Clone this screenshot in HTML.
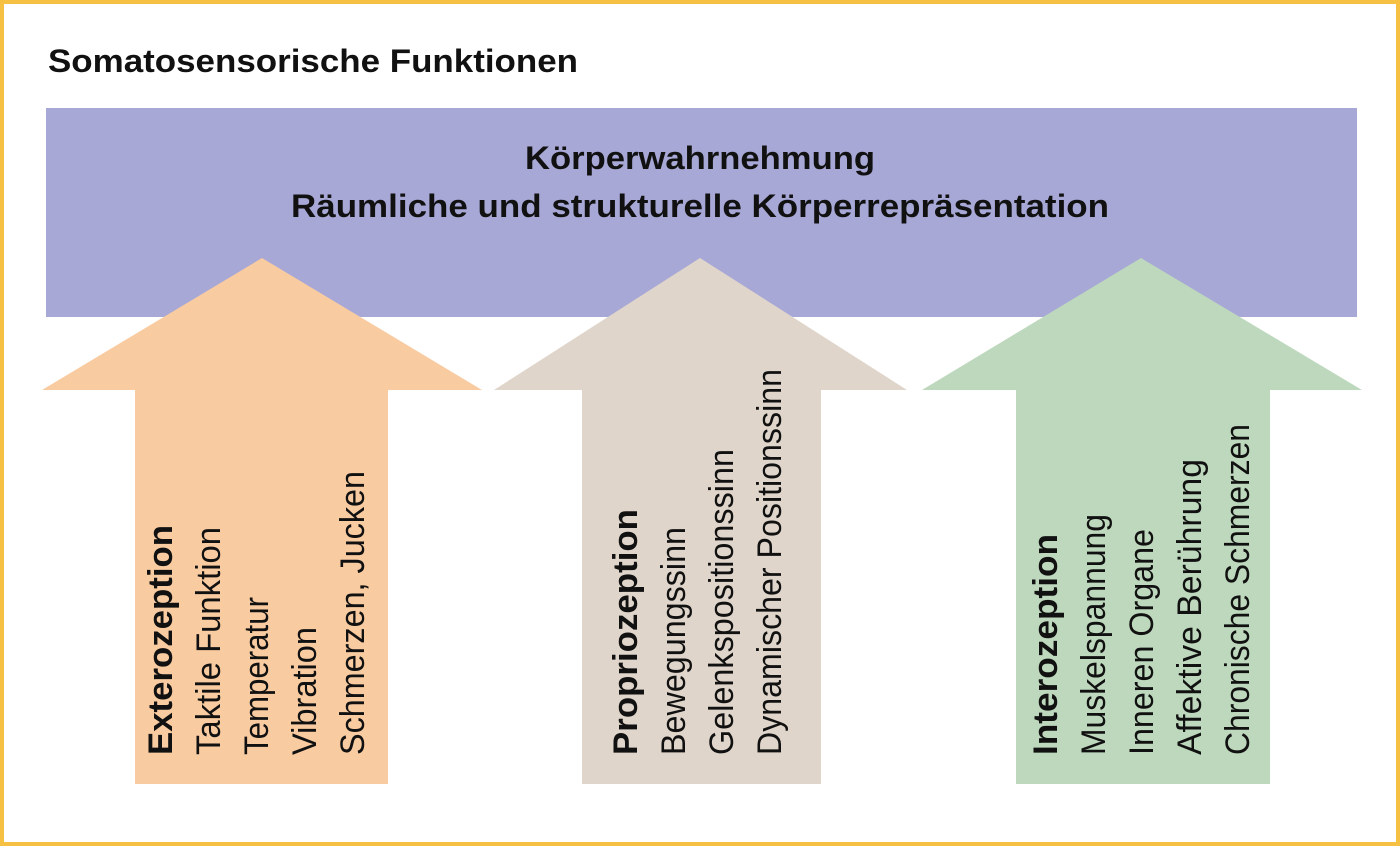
<!DOCTYPE html>
<html><head><meta charset="utf-8"><style>html,body{margin:0;padding:0;background:#fff}svg{display:block}</style></head>
<body>
<svg width="1400" height="846" viewBox="0 0 1400 846" xmlns="http://www.w3.org/2000/svg" font-family="Liberation Sans, sans-serif">
<rect x="2" y="2" width="1396" height="842" fill="#fff" stroke="#f6c043" stroke-width="4"/>
<text x="48" y="72" font-size="32" font-weight="bold" fill="#111" textLength="530" lengthAdjust="spacingAndGlyphs">Somatosensorische Funktionen</text>
<rect x="46" y="108" width="1311" height="209" fill="#a7a8d6"/>
<text x="700" y="169" font-size="32" font-weight="bold" text-anchor="middle" fill="#111" textLength="350" lengthAdjust="spacingAndGlyphs">Körperwahrnehmung</text>
<text x="700" y="217" font-size="32" font-weight="bold" text-anchor="middle" fill="#111" textLength="818" lengthAdjust="spacingAndGlyphs">Räumliche und strukturelle Körperrepräsentation</text>
<polygon points="262,258 482,390 388,390 388,784 135,784 135,390 42,390" fill="#f9cba1"/>
<polygon points="700,258 907,390 821,390 821,784 582,784 582,390 494,390" fill="#e0d5ca"/>
<polygon points="1141,258 1362,390 1270,390 1270,784 1016,784 1016,390 922,390" fill="#bdd8bc"/>
<g font-size="34" fill="#111" lengthAdjust="spacingAndGlyphs">
<text transform="translate(172,755) rotate(-90)" font-weight="bold" textLength="230" lengthAdjust="spacingAndGlyphs">Exterozeption</text>
<text transform="translate(220,755) rotate(-90)" textLength="228" lengthAdjust="spacingAndGlyphs">Taktile Funktion</text>
<text transform="translate(268,755) rotate(-90)" textLength="158" lengthAdjust="spacingAndGlyphs">Temperatur</text>
<text transform="translate(316,755) rotate(-90)" textLength="128" lengthAdjust="spacingAndGlyphs">Vibration</text>
<text transform="translate(364,755) rotate(-90)" textLength="284" lengthAdjust="spacingAndGlyphs">Schmerzen, Jucken</text>
<text transform="translate(637,755) rotate(-90)" font-weight="bold" textLength="246" lengthAdjust="spacingAndGlyphs">Propriozeption</text>
<text transform="translate(685,755) rotate(-90)" textLength="228" lengthAdjust="spacingAndGlyphs">Bewegungssinn</text>
<text transform="translate(733,755) rotate(-90)" textLength="306" lengthAdjust="spacingAndGlyphs">Gelenkspositionssinn</text>
<text transform="translate(781,755) rotate(-90)" textLength="386" lengthAdjust="spacingAndGlyphs">Dynamischer Positionssinn</text>
<text transform="translate(1057,755) rotate(-90)" font-weight="bold" textLength="221" lengthAdjust="spacingAndGlyphs">Interozeption</text>
<text transform="translate(1105,755) rotate(-90)" textLength="241" lengthAdjust="spacingAndGlyphs">Muskelspannung</text>
<text transform="translate(1153,755) rotate(-90)" textLength="226" lengthAdjust="spacingAndGlyphs">Inneren Organe</text>
<text transform="translate(1201,755) rotate(-90)" textLength="296" lengthAdjust="spacingAndGlyphs">Affektive Berührung</text>
<text transform="translate(1249,755) rotate(-90)" textLength="331" lengthAdjust="spacingAndGlyphs">Chronische Schmerzen</text>
</g>
</svg>
</body></html>
